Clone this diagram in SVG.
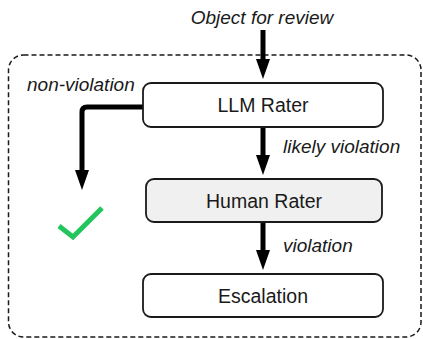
<svg xmlns="http://www.w3.org/2000/svg" width="423" height="339" viewBox="0 0 423 339">
  <style>
    .frame { fill: none; stroke: #1a1a1a; stroke-width: 1.5; stroke-dasharray: 5 3; }
    .box { fill: #ffffff; stroke: #1a1a1a; stroke-width: 1.8; }
    .box.shaded { fill: #f0f0f0; }
    .label { font-family: "Liberation Sans", Arial, sans-serif; font-size: 19.5px; fill: #1a1a1a; text-anchor: middle; }
    .edge-label { font-family: "Liberation Sans", Arial, sans-serif; font-size: 19px; font-style: italic; fill: #1a1a1a; }
    .flow { fill: none; stroke: #000000; stroke-width: 5; marker-end: url(#head); }
    .check { fill: none; stroke: #22c55e; stroke-width: 5; }
  </style>
  <defs>
    <marker id="head" markerUnits="userSpaceOnUse" markerWidth="20" markerHeight="14" refX="4" refY="7" orient="auto">
      <path d="M0,0 L20,7 L0,14 z" fill="#000000"/>
    </marker>
  </defs>

  <!-- review boundary -->
  <rect class="frame" x="8.5" y="55" width="412.5" height="282" rx="15" ry="15"/>

  <!-- incoming label -->
  <text class="edge-label" x="262" y="24" text-anchor="middle">Object for review</text>

  <g id="connectors">
    <path class="flow" d="M263,30 V63"/>
    <path class="flow" d="M263,127 V159"/>
    <path class="flow" d="M263,222 V254"/>
    <path class="flow" d="M143,107 H87 Q82,107 82,112 V174"/>
    <text class="edge-label" x="27" y="91">non-violation</text>
    <text class="edge-label" x="283" y="153">likely violation</text>
    <text class="edge-label" x="283" y="252">violation</text>
  </g>

  <g id="llm-rater">
    <rect class="box" x="143" y="83" width="240" height="44" rx="8" ry="8"/>
    <text class="label" x="263" y="112">LLM Rater</text>
  </g>

  <g id="human-rater">
    <rect class="box shaded" x="146" y="179" width="236" height="43" rx="8" ry="8"/>
    <text class="label" x="264" y="208">Human Rater</text>
  </g>

  <g id="escalation">
    <rect class="box" x="143" y="274" width="240" height="43" rx="8" ry="8"/>
    <text class="label" x="263" y="303">Escalation</text>
  </g>

  <g id="approved">
    <polyline class="check" points="59,226 73,237 102,208"/>
  </g>
</svg>
